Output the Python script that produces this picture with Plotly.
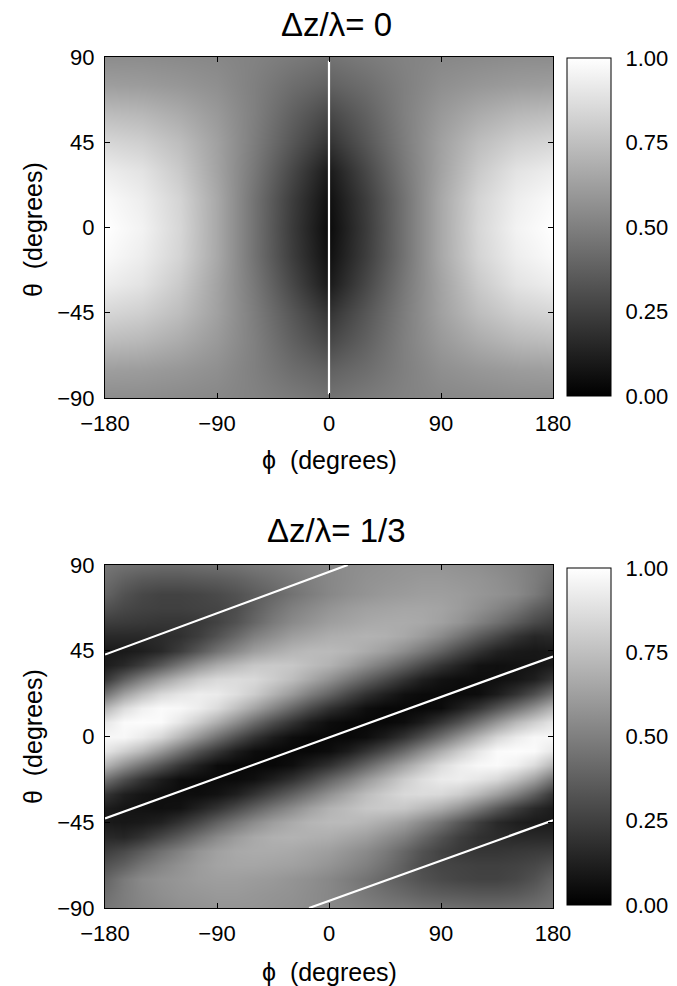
import plotly.graph_objects as go

# ---- data ----
phi_top = [-180, -150, -120, -90, -60, -30, 0, 30, 60, 90, 120, 150, 180]
theta_top = [90, 75, 60, 45, 30, 15, 0, -15, -30, -45, -60, -75, -90]
phi_bottom = [-180, -165, -150, -135, -120, -105, -90, -75, -60, -45, -30, -15, 0,
              15, 30, 45, 60, 75, 90, 105, 120, 135, 150, 165, 180]
theta_bottom = [90, 82.5, 75, 67.5, 60, 52.5, 45, 37.5, 30, 22.5, 15, 7.5, 0,
                -7.5, -15, -22.5, -30, -37.5, -45, -52.5, -60, -67.5, -75, -82.5, -90]

# normalized intensity, delta z / lambda = 0 (rows follow theta_top, columns phi_top)
z_top = [
    [0.55, 0.55, 0.54, 0.53, 0.51, 0.48, 0.45, 0.48, 0.51, 0.53, 0.54, 0.55, 0.55],
    [0.62, 0.61, 0.59, 0.56, 0.50, 0.43, 0.38, 0.43, 0.50, 0.56, 0.59, 0.61, 0.62],
    [0.74, 0.72, 0.67, 0.60, 0.50, 0.38, 0.28, 0.38, 0.50, 0.60, 0.67, 0.72, 0.74],
    [0.84, 0.81, 0.74, 0.63, 0.49, 0.34, 0.20, 0.34, 0.49, 0.63, 0.74, 0.81, 0.84],
    [0.93, 0.89, 0.79, 0.64, 0.47, 0.28, 0.10, 0.28, 0.47, 0.64, 0.79, 0.89, 0.93],
    [0.98, 0.93, 0.83, 0.66, 0.45, 0.24, 0.06, 0.24, 0.45, 0.66, 0.83, 0.93, 0.98],
    [1.00, 0.95, 0.84, 0.66, 0.45, 0.23, 0.04, 0.23, 0.45, 0.66, 0.84, 0.95, 1.00],
    [0.98, 0.93, 0.83, 0.66, 0.45, 0.24, 0.06, 0.24, 0.45, 0.66, 0.83, 0.93, 0.98],
    [0.93, 0.89, 0.79, 0.64, 0.47, 0.28, 0.10, 0.28, 0.47, 0.64, 0.79, 0.89, 0.93],
    [0.84, 0.81, 0.74, 0.63, 0.49, 0.34, 0.20, 0.34, 0.49, 0.63, 0.74, 0.81, 0.84],
    [0.74, 0.72, 0.67, 0.60, 0.50, 0.38, 0.28, 0.38, 0.50, 0.60, 0.67, 0.72, 0.74],
    [0.62, 0.61, 0.59, 0.56, 0.50, 0.43, 0.38, 0.43, 0.50, 0.56, 0.59, 0.61, 0.62],
    [0.55, 0.55, 0.54, 0.53, 0.51, 0.48, 0.45, 0.48, 0.51, 0.53, 0.54, 0.55, 0.55],
]

# normalized intensity, delta z / lambda = 1/3 (rows follow theta_bottom, columns phi_bottom)
z_bottom = [
    [0.46, 0.44, 0.43, 0.42, 0.42, 0.43, 0.44, 0.45, 0.47, 0.48, 0.50, 0.52, 0.53,
     0.55, 0.56, 0.57, 0.58, 0.58, 0.58, 0.57, 0.56, 0.54, 0.52, 0.49, 0.46],
    [0.43, 0.38, 0.35, 0.34, 0.34, 0.35, 0.36, 0.38, 0.41, 0.44, 0.47, 0.50, 0.53,
     0.55, 0.57, 0.58, 0.59, 0.60, 0.60, 0.59, 0.58, 0.56, 0.53, 0.49, 0.43],
    [0.39, 0.32, 0.28, 0.26, 0.26, 0.27, 0.29, 0.32, 0.36, 0.40, 0.45, 0.49, 0.53,
     0.56, 0.58, 0.60, 0.61, 0.62, 0.62, 0.61, 0.59, 0.57, 0.54, 0.48, 0.39],
    [0.32, 0.28, 0.26, 0.25, 0.25, 0.26, 0.27, 0.30, 0.37, 0.44, 0.50, 0.54, 0.58,
     0.61, 0.63, 0.64, 0.65, 0.65, 0.64, 0.61, 0.57, 0.52, 0.46, 0.38, 0.32],
    [0.24, 0.23, 0.22, 0.21, 0.21, 0.22, 0.26, 0.32, 0.40, 0.48, 0.54, 0.58, 0.62,
     0.64, 0.66, 0.67, 0.67, 0.66, 0.63, 0.58, 0.51, 0.44, 0.36, 0.29, 0.24],
    [0.16, 0.16, 0.16, 0.17, 0.19, 0.24, 0.32, 0.41, 0.50, 0.56, 0.62, 0.65, 0.68,
     0.69, 0.70, 0.69, 0.66, 0.61, 0.54, 0.45, 0.36, 0.28, 0.20, 0.15, 0.16],
    [0.10, 0.10, 0.12, 0.16, 0.24, 0.34, 0.45, 0.54, 0.62, 0.67, 0.71, 0.73, 0.73,
     0.71, 0.67, 0.62, 0.55, 0.47, 0.38, 0.28, 0.20, 0.13, 0.10, 0.09, 0.10],
    [0.11, 0.16, 0.24, 0.35, 0.47, 0.58, 0.67, 0.73, 0.78, 0.79, 0.78, 0.74, 0.70,
     0.63, 0.55, 0.47, 0.38, 0.29, 0.20, 0.13, 0.07, 0.06, 0.07, 0.08, 0.11],
    [0.21, 0.37, 0.50, 0.62, 0.72, 0.80, 0.85, 0.86, 0.85, 0.80, 0.74, 0.66, 0.57,
     0.47, 0.38, 0.29, 0.20, 0.12, 0.07, 0.05, 0.05, 0.06, 0.08, 0.12, 0.21],
    [0.45, 0.63, 0.75, 0.85, 0.90, 0.93, 0.92, 0.87, 0.80, 0.70, 0.60, 0.49, 0.39,
     0.28, 0.19, 0.12, 0.06, 0.04, 0.04, 0.04, 0.05, 0.11, 0.20, 0.31, 0.45],
    [0.71, 0.86, 0.94, 0.98, 0.97, 0.93, 0.86, 0.75, 0.64, 0.52, 0.40, 0.29, 0.19,
     0.12, 0.055, 0.03, 0.03, 0.03, 0.045, 0.12, 0.21, 0.33, 0.45, 0.57, 0.71],
    [0.90, 0.98, 0.99, 0.98, 0.90, 0.80, 0.68, 0.55, 0.42, 0.30, 0.20, 0.11, 0.05,
     0.03, 0.03, 0.03, 0.05, 0.11, 0.21, 0.32, 0.45, 0.59, 0.72, 0.81, 0.90],
    [0.97, 0.97, 0.92, 0.84, 0.71, 0.58, 0.44, 0.31, 0.20, 0.11, 0.05, 0.03, 0.03,
     0.03, 0.05, 0.11, 0.20, 0.31, 0.44, 0.58, 0.71, 0.84, 0.92, 0.97, 0.97],
    [0.90, 0.81, 0.72, 0.59, 0.45, 0.32, 0.21, 0.11, 0.05, 0.03, 0.03, 0.03, 0.05,
     0.11, 0.20, 0.30, 0.42, 0.55, 0.68, 0.80, 0.90, 0.98, 0.99, 0.98, 0.90],
    [0.71, 0.57, 0.45, 0.33, 0.21, 0.12, 0.045, 0.03, 0.03, 0.03, 0.055, 0.12, 0.19,
     0.29, 0.40, 0.52, 0.64, 0.75, 0.86, 0.93, 0.97, 0.98, 0.94, 0.86, 0.71],
    [0.45, 0.31, 0.20, 0.11, 0.05, 0.04, 0.04, 0.04, 0.06, 0.12, 0.19, 0.28, 0.39,
     0.49, 0.60, 0.70, 0.80, 0.87, 0.92, 0.93, 0.90, 0.85, 0.75, 0.63, 0.45],
    [0.21, 0.12, 0.08, 0.06, 0.05, 0.05, 0.07, 0.12, 0.20, 0.29, 0.38, 0.47, 0.57,
     0.66, 0.74, 0.80, 0.85, 0.86, 0.85, 0.80, 0.72, 0.62, 0.50, 0.37, 0.21],
    [0.11, 0.08, 0.07, 0.06, 0.07, 0.13, 0.20, 0.29, 0.38, 0.47, 0.55, 0.63, 0.70,
     0.74, 0.78, 0.79, 0.78, 0.73, 0.67, 0.58, 0.47, 0.35, 0.24, 0.16, 0.11],
    [0.10, 0.09, 0.10, 0.13, 0.20, 0.28, 0.38, 0.47, 0.55, 0.62, 0.67, 0.71, 0.73,
     0.73, 0.71, 0.67, 0.62, 0.54, 0.45, 0.34, 0.24, 0.16, 0.12, 0.10, 0.10],
    [0.16, 0.15, 0.20, 0.28, 0.36, 0.45, 0.54, 0.61, 0.66, 0.69, 0.70, 0.69, 0.68,
     0.65, 0.62, 0.56, 0.50, 0.41, 0.32, 0.24, 0.19, 0.17, 0.16, 0.16, 0.16],
    [0.24, 0.29, 0.36, 0.44, 0.51, 0.58, 0.63, 0.66, 0.67, 0.67, 0.66, 0.64, 0.62,
     0.58, 0.54, 0.48, 0.40, 0.32, 0.26, 0.22, 0.21, 0.21, 0.22, 0.23, 0.24],
    [0.32, 0.38, 0.46, 0.52, 0.57, 0.61, 0.64, 0.65, 0.65, 0.64, 0.63, 0.61, 0.58,
     0.54, 0.50, 0.44, 0.37, 0.30, 0.27, 0.26, 0.25, 0.25, 0.26, 0.28, 0.32],
    [0.39, 0.48, 0.54, 0.57, 0.59, 0.61, 0.62, 0.62, 0.61, 0.60, 0.58, 0.56, 0.53,
     0.49, 0.45, 0.40, 0.36, 0.32, 0.29, 0.27, 0.26, 0.26, 0.28, 0.32, 0.39],
    [0.43, 0.49, 0.53, 0.56, 0.58, 0.59, 0.60, 0.60, 0.59, 0.58, 0.57, 0.55, 0.53,
     0.50, 0.47, 0.44, 0.41, 0.38, 0.36, 0.35, 0.34, 0.34, 0.35, 0.38, 0.43],
    [0.46, 0.49, 0.52, 0.54, 0.56, 0.57, 0.58, 0.58, 0.58, 0.57, 0.56, 0.55, 0.53,
     0.52, 0.50, 0.48, 0.47, 0.45, 0.44, 0.43, 0.42, 0.42, 0.43, 0.44, 0.46],
]

# white overlay lines
top_line_phi = [0, 0]
top_line_theta = [-88, 88]
mid_line_phi = [-180, 180]
mid_line_theta = [-43, 42]
upper_line_phi = [-180, 15]
upper_line_theta = [43, 90]
lower_line_phi = [-16, 180]
lower_line_theta = [-90, -44]

phi_ticks = [-180, -90, 0, 90, 180]
theta_ticks = [-90, -45, 0, 45, 90]
cbar_ticks = [0, 0.25, 0.5, 0.75, 1.0]
cbar_text = ["0.00", "0.25", "0.50", "0.75", "1.00"]
titles = ["Δz/λ= 0", "Δz/λ= 1/3"]

# ---- figure ----
W, H = 677, 986
FONT = "Liberation Sans"
TICK = 22
gray = [[0, "#000000"], [1, "#ffffff"]]

fig = go.Figure()


def cbar(y_center, length):
    return dict(
        x=567 / W, xanchor="left", xpad=0, ypad=0,
        y=y_center, yanchor="middle", len=length, lenmode="fraction",
        thickness=44, thicknessmode="pixels",
        outlinecolor="#000000", outlinewidth=1,
        tickvals=cbar_ticks, ticktext=cbar_text,
        ticks="outside", ticklen=10, tickcolor="rgba(0,0,0,0)",
        tickfont=dict(family=FONT, size=TICK, color="#000000"),
    )


fig.add_trace(go.Heatmap(
    x=phi_top, y=theta_top, z=z_top, zmin=0, zmax=1, zsmooth="best",
    colorscale=gray, xaxis="x", yaxis="y",
    colorbar=cbar(1 - (58 + 396) / 2 / H, (396 - 58) / H),
))
fig.add_trace(go.Scatter(
    x=top_line_phi, y=top_line_theta, mode="lines",
    line=dict(color="#ffffff", width=2.2), xaxis="x", yaxis="y",
    showlegend=False, hoverinfo="skip",
))

fig.add_trace(go.Heatmap(
    x=phi_bottom, y=theta_bottom, z=z_bottom, zmin=0, zmax=1, zsmooth="best",
    colorscale=gray, xaxis="x2", yaxis="y2",
    colorbar=cbar(1 - (568 + 905) / 2 / H, (905 - 568) / H),
))
for lx, ly in [(mid_line_phi, mid_line_theta),
               (upper_line_phi, upper_line_theta),
               (lower_line_phi, lower_line_theta)]:
    fig.add_trace(go.Scatter(
        x=lx, y=ly, mode="lines",
        line=dict(color="#ffffff", width=2.2), xaxis="x2", yaxis="y2",
        showlegend=False, hoverinfo="skip",
    ))

xdom = [105 / W, 553 / W]
ydom_top = [1 - 398 / H, 1 - 57 / H]
ydom_bot = [1 - 908 / H, 1 - 565 / H]

axis_common = dict(
    showline=True, linecolor="#000000", linewidth=1, mirror="ticks",
    ticks="inside", ticklen=5, tickcolor="#000000", tickwidth=1,
    showgrid=False, zeroline=False, automargin=False,
    tickfont=dict(family=FONT, size=TICK, color="#000000"),
)

fig.update_layout(
    template="none",
    width=W, height=H,
    margin=dict(l=0, r=0, t=0, b=0, pad=0, autoexpand=False),
    paper_bgcolor="#ffffff", plot_bgcolor="#ffffff",
    showlegend=False,
    xaxis=dict(domain=xdom, range=[-180, 180], tickvals=phi_ticks,
               anchor="y", ticklabelstandoff=6, **axis_common),
    yaxis=dict(domain=ydom_top, range=[-90, 90], tickvals=theta_ticks,
               anchor="x", ticklabelstandoff=5, **axis_common),
    xaxis2=dict(domain=xdom, range=[-180, 180], tickvals=phi_ticks,
                anchor="y2", ticklabelstandoff=6, **axis_common),
    yaxis2=dict(domain=ydom_bot, range=[-90, 90], tickvals=theta_ticks,
                anchor="x2", ticklabelstandoff=5, **axis_common),
)

ann = []
# panel titles
for t, yc in zip(titles, [25, 530]):
    ann.append(dict(text=t, x=336 / W, y=1 - yc / H, xref="paper", yref="paper",
                    xanchor="center", yanchor="middle", showarrow=False,
                    font=dict(family=FONT, size=33, color="#000000")))
# x axis titles
for yc in [460, 972]:
    ann.append(dict(text="ϕ  (degrees)", x=329 / W, y=1 - yc / H, xref="paper", yref="paper",
                    xanchor="center", yanchor="middle", showarrow=False,
                    font=dict(family=FONT, size=25, color="#000000")))
# y axis titles
for yc in [230, 737]:
    ann.append(dict(text="θ  (degrees)", x=33 / W, y=1 - yc / H, xref="paper", yref="paper",
                    xanchor="center", yanchor="middle", showarrow=False, textangle=-90,
                    font=dict(family=FONT, size=25, color="#000000")))
fig.update_layout(annotations=ann)

fig.write_html("out.html")
